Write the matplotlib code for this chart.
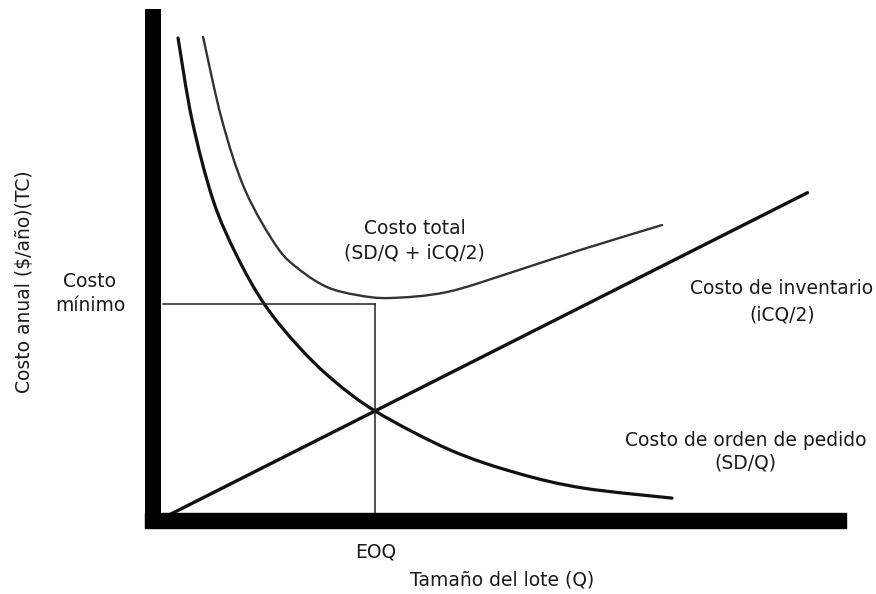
import matplotlib
matplotlib.use("Agg")
import matplotlib.pyplot as plt
from matplotlib.path import Path
from matplotlib.patches import PathPatch

# ---- data ----
eoq = 100
cost_min = 100

order_q = [7.1, 13.7, 23.6, 34.9, 48.1, 63.7, 80.2, 100.9, 135.4, 167.0, 198.1, 240.1]
order_c = [224.3, 186.0, 148.6, 122.4, 99.5, 80.4, 64.5, 49.5, 31.8, 21.0, 14.0, 9.3]

total_q = [18.9, 27.8, 38.7, 53.8, 64.6, 77.4, 91.5, 107.1, 134.0, 165.1, 196.7, 235.4]
total_c = [224.8, 186.0, 153.3, 126.6, 115.9, 107.9, 104.2, 102.8, 105.6, 115.0, 125.2, 136.9]

hold_q = [0, 304]
hold_c = [0, 152]

W, H = 876, 594
fig = plt.figure(figsize=(W / 100, H / 100), dpi=100)
plt.rcParams['font.family'] = ['DejaVu Sans']

def fx(px):
    return px / W

def fy(py):
    return 1 - py / H

left_px, right_px, top_px, bot_px = 153, 839, 9, 521
ax = fig.add_axes([fx(left_px), fy(bot_px), fx(right_px) - fx(left_px), fy(top_px) - fy(bot_px)])
ax.set_xlim((left_px - 163) / 2.12, (right_px - 163) / 2.12)
ax.set_ylim((518 - bot_px) / 2.14, (518 - top_px) / 2.14)

for s in ['top', 'right']:
    ax.spines[s].set_visible(False)
ax.spines['left'].set_linewidth(11.5)
ax.spines['left'].set_capstyle('butt')
ax.spines['bottom'].set_linewidth(11.8)
ax.spines['bottom'].set_capstyle('projecting')
for s in ['left', 'bottom']:
    ax.spines[s].set_color('black')
ax.set_xticks([])
ax.set_yticks([])


def smooth_curve(xs, ys, **kw):
    """Draw a smooth curve through the read points (Catmull-Rom as cubic Beziers)."""
    pts = list(zip(xs, ys))
    n = len(pts)
    verts = [pts[0]]
    codes = [Path.MOVETO]
    for i in range(n - 1):
        p0 = pts[i - 1] if i > 0 else pts[i]
        p1 = pts[i]
        p2 = pts[i + 1]
        p3 = pts[i + 2] if i + 2 < n else pts[i + 1]
        c1 = (p1[0] + (p2[0] - p0[0]) / 6, p1[1] + (p2[1] - p0[1]) / 6)
        c2 = (p2[0] - (p3[0] - p1[0]) / 6, p2[1] - (p3[1] - p1[1]) / 6)
        verts += [c1, c2, p2]
        codes += [Path.CURVE4] * 3
    ax.add_patch(PathPatch(Path(verts, codes), fill=False, capstyle='round',
                           joinstyle='round', **kw))


smooth_curve(order_q, order_c, edgecolor='#111111', lw=2.3)
smooth_curve(total_q, total_c, edgecolor='#333333', lw=1.7)
ax.plot(hold_q, hold_c, color='#111111', lw=2.4, solid_capstyle='round')

# EOQ guide lines
ax.plot([0, eoq], [cost_min, cost_min], color='#222222', lw=1.1)
ax.plot([eoq, eoq], [0, cost_min], color='#222222', lw=1.1)

fs = 13.5
tc = '#1a1a1a'
def t(px, py, s, **kw):
    fig.text(fx(px), fy(py), s, ha='center', va='center', fontsize=fs, color=tc, **kw)

t(415, 228, 'Costo total')
t(414, 253, '(SD/Q + iCQ/2)')
t(782, 288, 'Costo de inventario')
t(782, 315, '(iCQ/2)')
t(746, 440, 'Costo de orden de pedido')
t(745, 463, '(SD/Q)')
t(90, 282, 'Costo')
t(90, 305, 'mínimo')
t(376, 552, 'EOQ')
t(502, 580, 'Tamaño del lote (Q)')
t(25, 282, 'Costo anual ($/año)(TC)', rotation=90)

fig.savefig('out.png', dpi=100)
